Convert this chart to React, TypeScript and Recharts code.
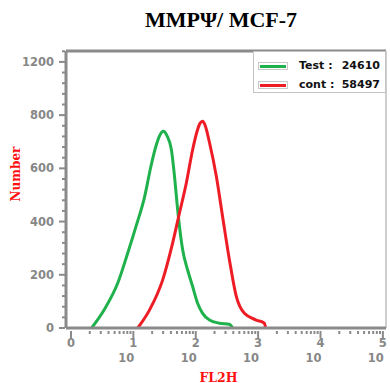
import React from 'react';
import { LineChart, Line, XAxis, YAxis, ReferenceLine, Legend } from 'recharts';

// ---- data (x in log10 decades of FL2H, y = event count) ----
const testX = [0.33, 0.53, 0.75, 0.91, 1.04, 1.18, 1.28, 1.36, 1.42, 1.48, 1.54, 1.61, 1.66, 1.71, 1.79, 1.87, 1.95, 2.03, 2.11, 2.22, 2.38, 2.54, 2.59];
const testY = [0, 68, 169, 282, 380, 493, 606, 682, 722, 739, 722, 670, 569, 444, 294, 218, 156, 93, 55, 30, 18, 14, 0];
const contX = [1.07, 1.26, 1.47, 1.63, 1.74, 1.85, 1.95, 2.03, 2.07, 2.11, 2.15, 2.22, 2.33, 2.43, 2.54, 2.65, 2.78, 2.97, 3.10, 3.12];
const contY = [0, 68, 181, 320, 433, 546, 670, 746, 770, 777, 762, 697, 570, 419, 256, 119, 55, 30, 18, 0];

const seriesNames = ['Test', 'cont'];
const seriesCounts = ['24610', '58497'];
const seriesColors = ['#1fb14b', '#ee1c25'];

const yMajorTicks = [0, 200, 400, 600, 800, 1000];
const yTickLabels = ['0', '200', '400', '600', '800', '1200'];
const decades = [0, 1, 2, 3, 4, 5];

const X_DOMAIN: [number, number] = [-0.08, 5.05];
const Y_DOMAIN: [number, number] = [0, 1041];

const testData = testX.map((x, i) => ({ x, y: testY[i] }));
const contData = contX.map((x, i) => ({ x, y: contY[i] }));

const yTicks: number[] = [];
for (let v = 0; v <= 1040; v += 40) yTicks.push(v);
const xTicks: number[] = [];
decades.forEach((d) => {
  xTicks.push(d);
  if (d < 5) for (let k = 2; k <= 9; k++) xTicks.push(d + Math.log10(k));
});

const GRAY = '#8a8a8a';
const TICK_FONT = { fontFamily: '"DejaVu Sans", Verdana, sans-serif', fontWeight: 700, fontSize: 11.5, fill: '#878787' } as const;

const XTick = (props: any) => {
  const { x, y, payload } = props;
  const v = payload.value as number;
  const d = Math.round(v);
  const major = Math.abs(v - d) < 1e-6;
  return (
    <g>
      <line x1={x} x2={x} y1={y + 3} y2={y + (major ? 10 : 6)} stroke={GRAY} strokeWidth={2} />
      {major && (
        <text x={x} y={y + 19} textAnchor="middle" {...TICK_FONT}>
          {String(d)}
        </text>
      )}
      {major && d > 0 && (
        <text x={x + 1} y={y + 34} textAnchor="end" {...TICK_FONT}>
          10
        </text>
      )}
    </g>
  );
};

const YTick = (props: any) => {
  const { x, y, payload } = props;
  const v = payload.value as number;
  const idx = yMajorTicks.indexOf(v);
  const major = idx >= 0;
  return (
    <g>
      <line x1={x - 1} x2={x - (major ? 7 : 4)} y1={y} y2={y} stroke={GRAY} strokeWidth={2} />
      {major && (
        <text x={x - 12} y={y + 4} textAnchor="end" {...TICK_FONT}>
          {yTickLabels[idx]}
        </text>
      )}
    </g>
  );
};

const LegendBox = () => (
  <div
    style={{
      width: 133,
      height: 42,
      boxSizing: 'border-box',
      border: '1px solid #c4c4c4',
      background: '#ffffff',
      position: 'relative',
      fontFamily: '"DejaVu Sans", Verdana, sans-serif',
      fontWeight: 700,
      fontSize: 11,
      color: '#111',
    }}
  >
    {seriesNames.map((name, i) => (
      <div key={name} style={{ position: 'absolute', left: 0, top: 7 + i * 19, width: 131, height: 14 }}>
        <div
          style={{
            position: 'absolute',
            left: 4,
            top: 3,
            width: 30,
            height: 8,
            boxSizing: 'border-box',
            border: '1px solid #c8c8c8',
            background: '#fff',
          }}
        >
          <div style={{ position: 'absolute', left: 1, right: 1, top: 2, height: 3, background: seriesColors[i] }} />
        </div>
        <span style={{ position: 'absolute', left: 45, top: 0, lineHeight: '14px', whiteSpace: 'nowrap' }}>{name} :</span>
        <span style={{ position: 'absolute', right: 5, top: 0, lineHeight: '14px' }}>{seriesCounts[i]}</span>
      </div>
    ))}
  </div>
);

export default function App() {
  return (
    <div style={{ position: 'absolute', left: 0, top: 0, width: 390, height: 383, background: '#fff' }}>
      <div
        style={{
          position: 'absolute',
          left: 52,
          top: 8,
          width: 338,
          textAlign: 'center',
          fontFamily: '"Liberation Serif", "Times New Roman", serif',
          fontWeight: 700,
          fontSize: 22,
          lineHeight: '24px',
          color: '#000',
        }}
      >
        MMPΨ/ MCF-7
      </div>
      <LineChart width={390} height={383} margin={{ top: 51, right: 4, bottom: 15, left: 0 }}>
        <XAxis
          type="number"
          dataKey="x"
          domain={X_DOMAIN}
          allowDataOverflow
          ticks={xTicks}
          interval={0}
          tick={<XTick />}
          tickLine={false}
          axisLine={false}
          tickSize={0}
          tickMargin={0}
          height={40}
          label={() => (
            <text
              x={218.5}
              y={381.5}
              textAnchor="middle"
              fill="#ff1010"
              fontFamily='"DejaVu Serif", serif'
              fontWeight={700}
              fontSize={12.5}
            >
              FL2H
            </text>
          )}
        />
        <YAxis
          type="number"
          dataKey="y"
          domain={Y_DOMAIN}
          allowDataOverflow
          ticks={yTicks}
          interval={0}
          tick={<YTick />}
          tickLine={false}
          axisLine={false}
          tickSize={0}
          tickMargin={0}
          width={66}
          label={() => (
            <text
              x={0}
              y={0}
              transform="translate(19.5 174) rotate(-90)"
              textAnchor="middle"
              fill="#ff1010"
              fontFamily='"DejaVu Serif", serif'
              fontWeight={700}
              fontSize={12}
            >
              Number
            </text>
          )}
        />
        <ReferenceLine x={X_DOMAIN[1]} stroke="#cfcfcf" strokeWidth={2} />
        <ReferenceLine y={Y_DOMAIN[1]} stroke={GRAY} strokeWidth={3} />
        <ReferenceLine x={X_DOMAIN[0]} stroke={GRAY} strokeWidth={3} />
        <Line
          data={testData}
          dataKey="y"
          name={seriesNames[0]}
          type="monotone"
          stroke={seriesColors[0]}
          strokeWidth={3}
          dot={false}
          isAnimationActive={false}
        />
        <Line
          data={contData}
          dataKey="y"
          name={seriesNames[1]}
          type="monotone"
          stroke={seriesColors[1]}
          strokeWidth={3}
          dot={false}
          isAnimationActive={false}
        />
        <ReferenceLine y={0} stroke={GRAY} strokeWidth={3} />
        <Legend
          layout="horizontal"
          verticalAlign="middle"
          align="center"
          wrapperStyle={{ left: 253, top: 51, width: 133, height: 42 }}
          content={() => <LegendBox />}
        />
      </LineChart>
    </div>
  );
}
